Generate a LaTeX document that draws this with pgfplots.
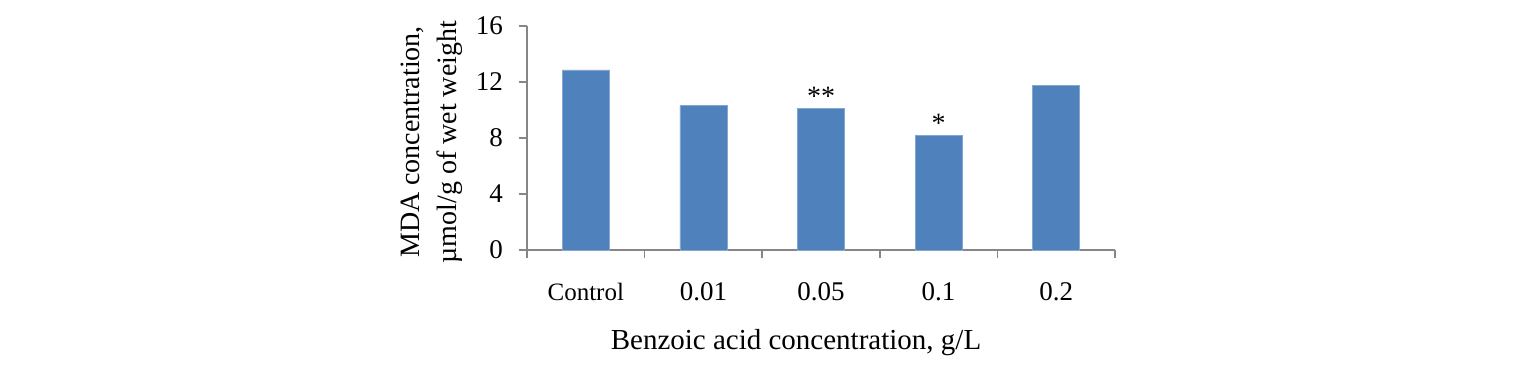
\documentclass[border=0pt]{standalone}
\usepackage{pgfplots}
\pgfplotsset{compat=1.18}
\usepackage{fontspec}
\setmainfont{Liberation Serif}
\definecolor{barblue}{HTML}{4F81BD}
\definecolor{axgrey}{HTML}{868686}
\begin{document}
\begin{tikzpicture}
\useasboundingbox (-263.5pt,-57pt) rectangle (496.5pt,125pt);
\begin{axis}[
  at={(0,0)}, anchor=south west,
  scale only axis,
  width=294pt, height=112pt,
  xmin=-0.5, xmax=4.5,
  ymin=0, ymax=16,
  axis x line*=bottom, axis y line*=left,
  axis line style={axgrey, line width=0.8pt},
  xtick={0,1,2,3,4},
  xticklabels={{\fontsize{12.5}{14}\selectfont Control},0.01,0.05,0.1,0.2},
  minor xtick={-0.5,0.5,1.5,2.5,3.5,4.5},
  ytick={0,4,8,12,16},
  tick align=outside,
  major tick length=4pt, minor tick length=4pt,
  major x tick style={draw=none},
  tick style={axgrey, line width=0.8pt},
  minor tick style={axgrey, line width=0.8pt},
  /pgf/number format/assume math mode=true,
  xticklabel style={font=\fontsize{13.5}{16}\selectfont, anchor=base, yshift=-21pt},
  yticklabel style={font=\fontsize{13.5}{16}\selectfont, xshift=-4.5pt},
  xlabel={Benzoic acid concentration, g/L},
  xlabel style={font=\fontsize{14.5}{17}\selectfont, at={(axis description cs:0.5,0)}, anchor=base, yshift=-49.5pt, xshift=-12.5pt},
  ylabel={MDA concentration,\\µmol/g of wet weight},
  ylabel style={font=\fontsize{14}{18.5}\selectfont, align=center, at={(axis description cs:0,0.5)}, anchor=center, rotate=0, yshift=47.5pt, xshift=-2pt},
  clip=false,
]
\addplot[ybar, bar width=23.5pt, fill=barblue, draw=barblue!70!white, line width=0.4pt] coordinates {
  (0,12.86) (1,10.31) (2,10.12) (3,8.21) (4,11.76)
};
\node[font=\fontsize{14}{16}\selectfont, anchor=south, inner sep=1pt] at (axis cs:2,10.12) {**};
\node[font=\fontsize{14}{16}\selectfont, anchor=south, inner sep=1pt] at (axis cs:3,8.21) {*};
\end{axis}
\end{tikzpicture}
\end{document}
